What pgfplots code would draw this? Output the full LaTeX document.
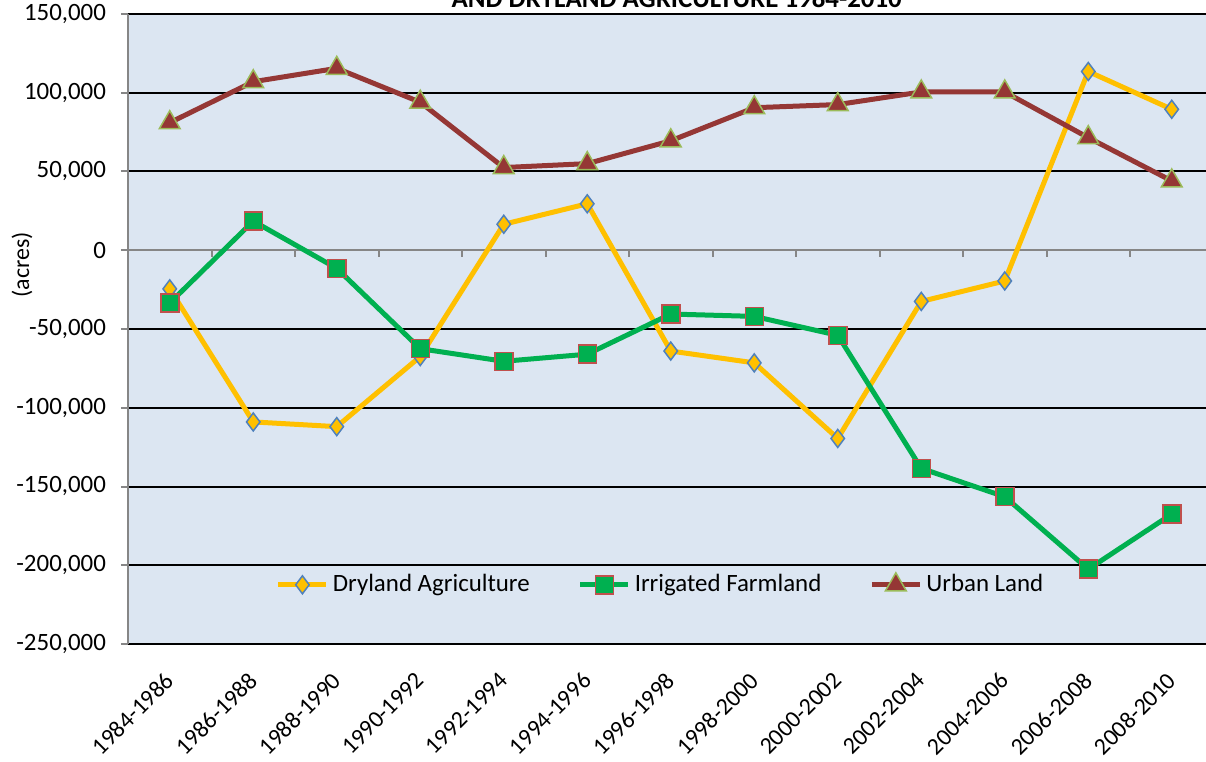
\documentclass[border=0pt]{standalone}
\usepackage{pgfplots}
\pgfplotsset{compat=1.18}
\usepackage{pgfplotstable}
\usepackage{fontspec}
\setmainfont{Carlito}
\definecolor{bgblue}{HTML}{DCE6F2}
\definecolor{dryc}{HTML}{FFC000}
\definecolor{dryedge}{HTML}{4F81BD}
\definecolor{irrc}{HTML}{00B050}
\definecolor{irredge}{HTML}{C0504D}
\definecolor{urbc}{HTML}{953735}
\definecolor{urbedge}{HTML}{9BBB59}
\definecolor{axgray}{HTML}{868686}

% net change in acres per two-year period
\pgfplotstableread{
x  dry     irr     urb
0  -24500  -33500  81000
1  -109000 18500   107000
2  -112000 -11500  115500
3  -67500  -62500  94000
4  16500   -70500  52500
5  29500   -66000  55000
6  -64000  -40500  69500
7  -71500  -42000  90500
8  -119500 -54000  92500
9  -32500  -138500 100500
10 -19500  -156500 100500
11 113500  -202500 71500
12 89500   -167500 44000
}\landdata

\begin{document}
\begin{tikzpicture}
\begin{axis}[
  width=539bp, height=315bp, scale only axis,
  clip=false,
  xmin=-0.5, xmax=12.41,
  ymin=-250000, ymax=150000,
  axis background/.style={fill=bgblue},
  axis x line*=bottom, axis y line*=left,
  x axis line style={draw=none},
  y axis line style={axgray, line width=1bp},
  xtick={0,...,12},
  xticklabels={1984-1986,1986-1988,1988-1990,1990-1992,1992-1994,1994-1996,1996-1998,1998-2000,2000-2002,2002-2004,2004-2006,2006-2008,2008-2010},
  major x tick style={draw=none},
  x tick label style={xshift=-3bp, yshift=-8.5bp, rotate=45, anchor=north east, font=\fontsize{12}{13}\selectfont},
  ytick={-250000,-200000,...,150000},
  ytick align=outside, major tick length=3.5bp,
  major y tick style={axgray, line width=1bp},
  y tick label style={font=\fontsize{12.5}{14}\selectfont, xshift=-4bp},
  /pgf/number format/assume math mode=true,
  /pgf/number format/.cd, 1000 sep={,}, fixed, /pgfplots/.cd,
  scaled y ticks=false,
  ymajorgrids, grid style={black, line width=1bp},
  ylabel={(acres)},
  every axis y label/.style={at={(rel axis cs:0,0.602)}, xshift=-53bp, rotate=90, anchor=center, font=\fontsize{12}{14}\selectfont},
  legend columns=3,
  legend style={at={(rel axis cs:0.495,0.094)}, anchor=center, draw=none, fill=none,
    font=\fontsize{12.5}{14}\selectfont, /tikz/every even column/.append style={column sep=22bp}},
  legend image code/.code={\draw[mark repeat=2,mark phase=2] plot coordinates {(0bp,0bp) (12bp,0bp) (24bp,0bp)};},
]
\coordinate (bl) at (rel axis cs:0,0);
\coordinate (tr) at (rel axis cs:1,1);
\draw[axgray, line width=1bp] (axis cs:-0.5,0) -- (axis cs:12.41,0);
\pgfplotsinvokeforeach{0.5,1.5,2.5,3.5,4.5,5.5,6.5,7.5,8.5,9.5,10.5,11.5}{
  \draw[axgray, line width=1bp] (axis cs:#1,0) -- ([yshift=-3.5bp]axis cs:#1,0);
}
\addplot[dryc, line width=2.5bp, mark=diamond*, mark size=4.5bp,
  mark options={fill=dryc, draw=dryedge, line width=0.75bp}] table[x=x, y=dry] {\landdata};
\addlegendentry{Dryland Agriculture}
\addplot[irrc, line width=2.5bp, mark=square*, mark size=4.5bp,
  mark options={fill=irrc, draw=irredge, line width=0.75bp}] table[x=x, y=irr] {\landdata};
\addlegendentry{Irrigated Farmland}
\addplot[urbc, line width=2.5bp, mark=triangle*, mark size=6bp,
  mark options={fill=urbc, draw=urbedge, line width=0.75bp}] table[x=x, y=urb] {\landdata};
\addlegendentry{Urban Land}
\node[anchor=base, yshift=3bp, font=\bfseries\fontsize{13.5}{15}\selectfont] at (rel axis cs:0.509,1) {AND DRYLAND AGRICULTURE 1984-2010};
\end{axis}
\pgfresetboundingbox
\path[use as bounding box] ([xshift=-64bp,yshift=-59bp]bl) rectangle ([yshift=7bp]tr);
\end{tikzpicture}
\end{document}
